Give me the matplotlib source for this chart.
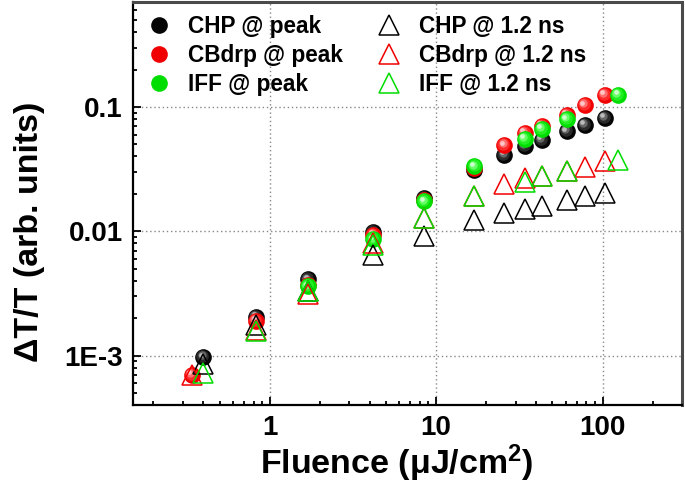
import matplotlib
matplotlib.use("Agg")
import matplotlib.pyplot as plt
from matplotlib.ticker import LogLocator, FixedLocator, FixedFormatter, NullFormatter
from matplotlib.transforms import ScaledTranslation

# ---------------- data ----------------
chp_peak_x = [0.4, 0.83, 1.7, 4.2, 8.5, 17, 25.7, 34, 43, 61, 78, 103]
chp_peak_y = [9.7e-4, 0.00205, 0.0041, 0.0098, 0.0186, 0.031, 0.0414, 0.0483, 0.0547, 0.0638, 0.072, 0.0817]

cbd_peak_x = [0.34, 0.83, 1.7, 4.2, 8.5, 17, 25.7, 34, 43, 61, 78, 103]
cbd_peak_y = [7.0e-4, 0.0019, 0.0037, 0.0094, 0.018, 0.0325, 0.0492, 0.062, 0.0708, 0.0869, 0.1034, 0.125]

iff_peak_x = [1.7, 4.2, 8.5, 17, 34, 43, 61, 124]
iff_peak_y = [0.0036, 0.0086, 0.0174, 0.0333, 0.0553, 0.0667, 0.080, 0.126]

chp_12_x = [0.4, 0.83, 1.7, 4.2, 8.5, 17, 25.7, 34, 43, 61, 78, 103]
chp_12_y = [8.5e-4, 0.00177, 0.0033, 0.0065, 0.0091, 0.0124, 0.0141, 0.0151, 0.0159, 0.0178, 0.0191, 0.0204]

cbd_12_x = [0.34, 0.83, 1.7, 4.2, 8.5, 17, 25.7, 34, 43, 61, 78, 103]
cbd_12_y = [7.0e-4, 0.0016, 0.0031, 0.0080, 0.0128, 0.0191, 0.0238, 0.0269, 0.0277, 0.0304, 0.033, 0.0366]

iff_12_x = [0.4, 0.83, 1.7, 4.2, 8.5, 17, 34, 43, 61, 124]
iff_12_y = [7.3e-4, 0.00157, 0.0033, 0.0078, 0.0128, 0.0191, 0.0248, 0.0277, 0.0304, 0.0377]

peak_labels = ["CHP @ peak", "CBdrp @ peak", "IFF @ peak"]
ns_labels = ["CHP @ 1.2 ns", "CBdrp @ 1.2 ns", "IFF @ 1.2 ns"]

x_ticks = [1, 10, 100]
x_tick_labels = ["1", "10", "100"]
y_ticks = [1e-3, 1e-2, 1e-1]
y_tick_labels = ["1E-3", "0.01", "0.1"]

# ---------------- style ----------------
plt.rcParams['font.family'] = ['Liberation Sans', 'DejaVu Sans']
plt.rcParams['font.weight'] = 'bold'
plt.rcParams['mathtext.fontset'] = 'custom'
plt.rcParams['mathtext.rm'] = 'Liberation Sans:bold'
plt.rcParams['mathtext.bf'] = 'Liberation Sans:bold'
plt.rcParams['mathtext.default'] = 'bf'

fig = plt.figure(figsize=(6.85, 4.94), dpi=100)
ax = fig.add_axes([132.5/685, 1-405/494, (682-132.5)/685, (405-2)/494])
ax.set_xscale('log')
ax.set_yscale('log')
ax.set_xlim(0.15, 300)
ax.set_ylim(4e-4, 0.7)

ax.xaxis.set_major_locator(FixedLocator(x_ticks))
ax.xaxis.set_major_formatter(FixedFormatter(x_tick_labels))
ax.yaxis.set_major_locator(FixedLocator(y_ticks))
ax.yaxis.set_major_formatter(FixedFormatter(y_tick_labels))
ax.xaxis.set_minor_locator(LogLocator(base=10, subs=range(2, 10), numticks=20))
ax.yaxis.set_minor_locator(LogLocator(base=10, subs=range(2, 10), numticks=20))
ax.xaxis.set_minor_formatter(NullFormatter())
ax.yaxis.set_minor_formatter(NullFormatter())

ax.tick_params(which='both', direction='in', top=False, right=False, width=1.3, color='black')
ax.tick_params(which='major', length=6, labelsize=20, pad=7)
ax.tick_params(which='minor', length=3)

ax.grid(True, which='major', linestyle=(0, (1, 2)), color='#888888', linewidth=1.0)
ax.set_axisbelow(True)

for s in ['left', 'bottom']:
    ax.spines[s].set_linewidth(1.6)
    ax.spines[s].set_color('black')
for s in ['top', 'right']:
    ax.spines[s].set_linewidth(2.2)
    ax.spines[s].set_color('#4a4a4a')

# sphere-like markers
def sphere(x, y, base, shades, label, ms=12):
    h, = ax.plot(x, y, 'o', ms=ms, color=base, mec='none', label=label, zorder=3)
    steps = [(0.75, 0.7), (0.5, 1.3), (0.28, 1.8)]
    for (frac, off), col in zip(steps, shades):
        tr = ax.transData + ScaledTranslation(-off/72, off/72, fig.dpi_scale_trans)
        ax.plot(x, y, 'o', ms=ms*frac, color=col, mec='none', transform=tr, zorder=3)
    return h

h1 = sphere(chp_peak_x, chp_peak_y, '#050505', ['#2a2a2a', '#666666', '#bbbbbb'], peak_labels[0])
h2 = sphere(cbd_peak_x, cbd_peak_y, '#f00000', ['#ff2a2a', '#ff7070', '#ffc8c8'], peak_labels[1])
h3 = sphere(iff_peak_x, iff_peak_y, '#00dd00', ['#22ee22', '#66ff66', '#ccffcc'], peak_labels[2])

tri_kw = dict(marker='^', ls='none', ms=15, mfc='none', mew=1.1, zorder=4)
h4, = ax.plot(chp_12_x, chp_12_y, color='black', label=ns_labels[0], **tri_kw)
h5, = ax.plot(cbd_12_x, cbd_12_y, color='#f00000', label=ns_labels[1], **tri_kw)
h6, = ax.plot(iff_12_x, iff_12_y, color='#00dd00', label=ns_labels[2], **tri_kw)

leg = ax.legend(handles=[h1, h2, h3, h4, h5, h6], ncol=2, loc='upper left',
                bbox_to_anchor=(0.027, 0.968), frameon=False, fontsize=16.3,
                handlelength=1.0, handletextpad=0.8, columnspacing=1.55,
                labelspacing=0.26, borderaxespad=0.0, borderpad=0.0)

ax.set_xlabel(r"Fluence (μJ/cm$^{2}$)", fontsize=24.5, fontweight='bold')
ax.set_ylabel("ΔT/T (arb. units)", fontsize=24.5, fontweight='bold')
ax.xaxis.set_label_coords(0.481, -0.093)
ax.yaxis.set_label_coords(-0.16, 0.43)

fig.savefig("out.png", dpi=100)
